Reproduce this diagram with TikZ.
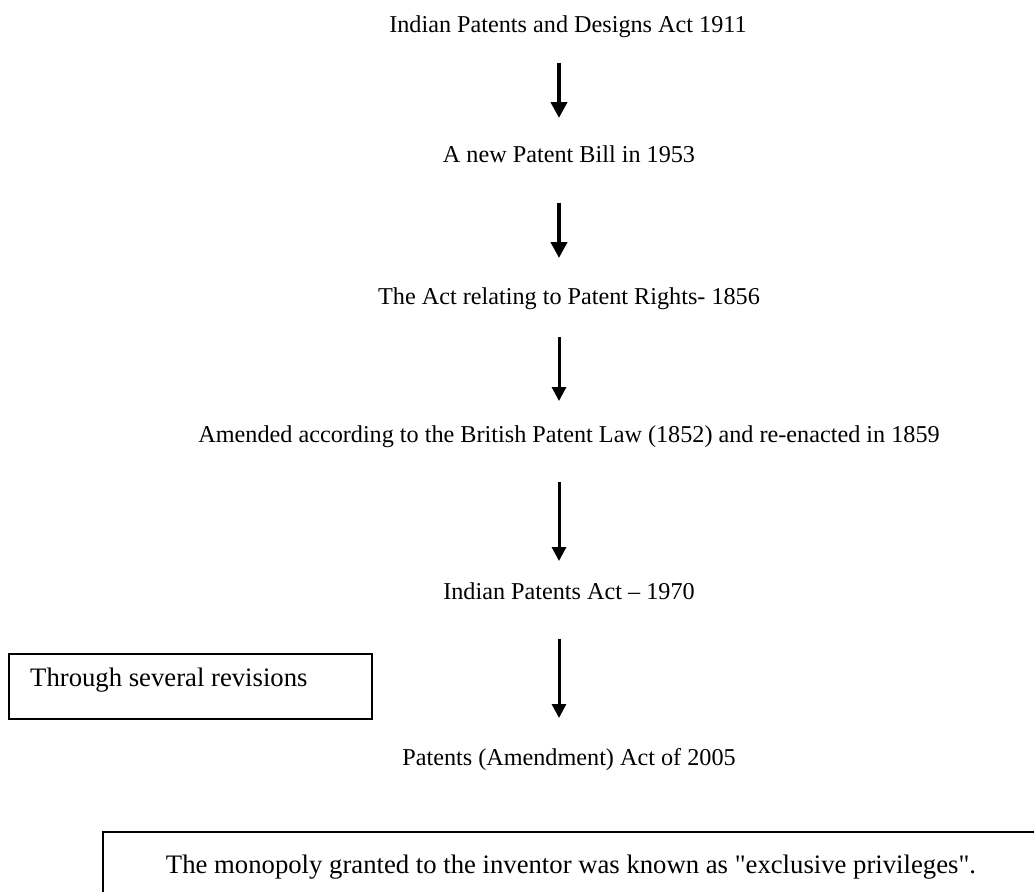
\documentclass[tikz,border=0pt]{standalone}
\usepackage{fontspec}
\setmainfont{Liberation Serif}
% plain family for the framed notes, so that " stays a straight quote
\newfontfamily\notefont{Liberation Serif}
\usetikzlibrary{arrows.meta}
\begin{document}
\begin{tikzpicture}[x=1pt,y=-1pt,
  stage/.style={inner sep=0pt,anchor=base,font=\fontsize{24.2}{29}\selectfont},
  note/.style={inner sep=0pt,anchor=base,font=\notefont\fontsize{26.7}{32}\selectfont},
  bigarrow/.style={line width=4.5pt,-{Triangle[length=16pt,width=16pt]}},
  smallarrow/.style={line width=3pt,-{Triangle[length=14pt,width=14pt]}},
  frame/.style={line width=1.5pt}]
\useasboundingbox (0,0) rectangle (1034,892);

% the chain of acts
\node[stage] (t1) at (568,32) {Indian Patents and Designs Act 1911};
\node[stage] (t2) at (569,162) {A new Patent Bill in 1953};
\node[stage] (t3) at (569,304) {The Act relating to Patent Rights- 1856};
\node[stage] (t4) at (569,442) {Amended according to the British Patent Law (1852) and re-enacted in 1859};
\node[stage] (t5) at (569,599) {Indian Patents Act -- 1970};
\node[stage] (t6) at (569,765) {Patents (Amendment) Act of 2005};

% arrow end points
\coordinate (a1s) at (559,63);  \coordinate (a1e) at (559,118);
\coordinate (a2s) at (559,203); \coordinate (a2e) at (559,258);
\coordinate (a3s) at (559,337); \coordinate (a3e) at (559,401);
\coordinate (a4s) at (559,482); \coordinate (a4e) at (559,561);
\coordinate (a5s) at (559,639); \coordinate (a5e) at (559,718);

\draw[bigarrow] (a1s) -- (a1e);
\draw[bigarrow] (a2s) -- (a2e);
\draw[smallarrow] (a3s) -- (a3e);
\draw[smallarrow] (a4s) -- (a4e);
\draw[smallarrow] (a5s) -- (a5e);

% side note
\draw[frame] (9,654) rectangle (372,719);
\node[note,anchor=base west] (rev) at (30,686) {Through several revisions};

% bottom note, its frame running off the page
\draw[frame] (1034,832) -- (103,832) -- (103,892);
\node[note] (mono) at (571,873) {The monopoly granted to the inventor was known as "exclusive privileges".};
\end{tikzpicture}
\end{document}
